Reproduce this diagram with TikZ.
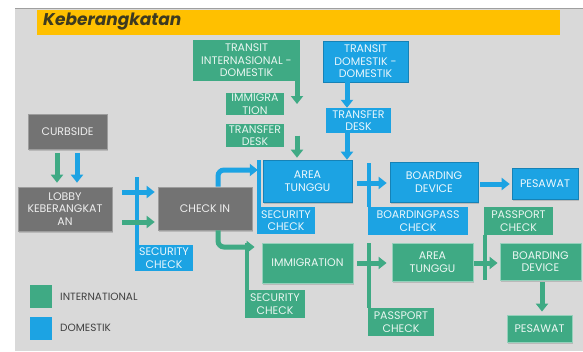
\documentclass[tikz,border=0pt]{standalone}
\usepackage{fontspec}
\setmainfont{Poppins}
\usetikzlibrary{arrows.meta,shadows}
\definecolor{ig}{HTML}{3FAA84}
\definecolor{db}{HTML}{1CA3E3}
\definecolor{gb}{HTML}{737373}
\definecolor{bgc}{HTML}{D9D9D9}
\definecolor{yb}{HTML}{FFC000}
\definecolor{tt}{HTML}{3D3A20}
\definecolor{lg}{HTML}{404040}
\tikzset{
 base/.style={inner sep=0pt, align=center, font=\fontsize{11}{12.5}\selectfont},
 mainbox/.style={base, drop shadow={shadow xshift=1.2pt,shadow yshift=-1.5pt,opacity=0.35}},
 gmain/.style={mainbox, fill=ig, draw=ig!55!white, line width=0.8pt, text=white!90!ig},
 bmain/.style={mainbox, fill=db, draw=db!80!black, line width=0.6pt, text=white!92!db},
 graybox/.style={mainbox, fill=gb, draw=gb!70!white, line width=0.6pt, text=white!88!gb},
 glabel/.style={base, fill=ig, text=white!88!ig},
 blabel/.style={base, fill=db, text=white!90!db},
 arr/.style={line width=5pt, -{Triangle[width=12pt,length=8pt]}},
 garrow/.style={arr, draw=ig},
 barrow/.style={arr, draw=db},
 gtick/.style={line width=3.5pt, draw=ig},
 btick/.style={line width=3.5pt, draw=db},
 legsq/.style={inner sep=0pt, minimum width=22pt, minimum height=23pt},
 legtxt/.style={inner sep=0pt, anchor=west, text=lg, font=\fontsize{10.5}{12.5}\selectfont},
}
\begin{document}
\begin{tikzpicture}[x=1pt,y=-1pt]
% page and panel
\fill[white] (0,0) rectangle (583,351);
\useasboundingbox (0,0) rectangle (583,351);
\fill[bgc] (15,8) rectangle (583,351);
\draw[gray!75, line width=1pt] (15,8) -- (583,8);
\fill[yb] (37,10) rectangle (560,35);
\node[inner sep=0pt, anchor=west, text=tt, font=\fontsize{17}{20}\selectfont\bfseries\itshape] (title) at (43,22) {Keberangkatan};

% top transit boxes
\node[glabel, minimum width=107pt, minimum height=41pt] (tid) at (246.5,60.5) {TRANSIT\\INTERNASIONAL -\\DOMESTIK};
\node[blabel, minimum width=85pt, minimum height=41pt, draw=db!80!black, line width=0.6pt] (tdd) at (365.5,61.5) {TRANSIT\\DOMESTIK -\\DOMESTIK};
\node[glabel, minimum width=58pt, minimum height=22pt] (imm1) at (255,104) {IMMIGRA\\TION};
\node[glabel, minimum width=58pt, minimum height=23pt] (tfd1) at (255,135.5) {TRANSFER\\DESK};
\node[blabel, minimum width=65pt, minimum height=25pt] (tfd2) at (358.5,120.5) {TRANSFER\\DESK};

% main flow
\node[graybox, minimum width=79pt, minimum height=35pt] (curb) at (67.5,131.5) {CURBSIDE};
\node[graybox, minimum width=94pt, minimum height=44pt] (lobby) at (65,209) {LOBBY\\KEBERANGKAT\\AN};
\node[graybox, minimum width=94pt, minimum height=43pt] (checkin) at (205,208.5) {CHECK IN};
\node[blabel, minimum width=58pt, minimum height=26pt] (scb1) at (164,258) {SECURITY\\CHECK};

% domestic row
\node[bmain, minimum width=89pt, minimum height=42pt] (atb) at (307.5,181) {AREA\\TUNGGU};
\node[blabel, minimum width=58pt, minimum height=27pt] (scb2) at (286,220.5) {SECURITY\\CHECK};
\node[bmain, minimum width=88pt, minimum height=40pt] (bdb) at (434,182) {BOARDING\\DEVICE};
\node[blabel, minimum width=100pt, minimum height=28pt] (bpc) at (418,221) {BOARDINGPASS\\CHECK};
\node[bmain, minimum width=66pt, minimum height=31pt] (pesb) at (545,183.5) {PESAWAT};

% international row
\node[gmain, minimum width=91pt, minimum height=40pt] (immg) at (307.5,263) {IMMIGRATION};
\node[glabel, minimum width=60pt, minimum height=28pt] (scg) at (275,304) {SECURITY\\CHECK};
\node[gmain, minimum width=81pt, minimum height=38pt] (atg) at (432.5,262) {AREA\\TUNGGU};
\node[glabel, minimum width=66pt, minimum height=28pt] (ppc1) at (401,322) {PASSPORT\\CHECK};
\node[glabel, minimum width=69pt, minimum height=28pt] (ppc2) at (518.5,221) {PASSPORT\\CHECK};
\node[gmain, minimum width=81pt, minimum height=37pt] (bdg) at (540.5,261.5) {BOARDING\\DEVICE};
\node[gmain, minimum width=65pt, minimum height=27pt] (pesg) at (539.5,328.5) {PESAWAT};

% legend
\node[legsq, fill=ig] (lgg) at (41,296.5) {};
\node[legsq, fill=db] (lgb) at (41,328) {};
\node[legtxt] (lgt1) at (60,297) {INTERNATIONAL};
\node[legtxt] (lgt2) at (60,328) {DOMESTIK};

% top arrows
\draw[garrow] (297,0 |- tid.south) -- (297,0 |- imm1.center);
\draw[garrow] (297,0 |- tfd1.center) -- ([yshift=2pt]297,0 |- atb.north);
\draw[barrow] (347,0 |- tdd.south) -- (347,0 |- tfd2.north);
\draw[barrow] (347,0 |- tfd2.south) -- (347,0 |- atb.north);

% curbside -> lobby
\draw[garrow, shorten <=4pt, shorten >=4pt] ([xshift=-10.5pt]curb.south) -- ([xshift=-10.5pt]curb.south |- lobby.north);
\draw[barrow, shorten <=4pt, shorten >=4pt] ([xshift=9.5pt]curb.south) -- ([xshift=9.5pt]curb.south |- lobby.north);

% lobby -> check in
\draw[btick] ([xshift=2pt]scb1.north west) -- ++(0,-68);
\draw[barrow, shorten <=10pt, shorten >=3pt] (lobby.east |- 0,192) -- (checkin.west |- 0,192);
\draw[garrow, shorten <=10pt, shorten >=3pt] (lobby.east |- 0,222) -- (checkin.west |- 0,222);

% check in -> area tunggu (domestik)
\draw[btick] ([xshift=2pt]scb2.north west) -- ++(0,-47);
\draw[barrow, rounded corners=6pt] (218,0 |- checkin.north) |- ([xshift=1pt]scb2.north west |- 0,170);

% check in -> immigration (international)
\draw[gtick] ([xshift=2pt]scg.north west) -- ++(0,-47);
\draw[garrow, rounded corners=6pt] (218,0 |- checkin.south) |- ([xshift=-7pt]immg.west |- 0,247);

% domestic row arrows
\draw[btick] ([xshift=1pt]bpc.north west) -- ++(0,-44);
\draw[barrow, shorten <=5pt, shorten >=3pt] (atb.east |- 0,183) -- (bdb.west |- 0,183);
\draw[barrow, shorten <=2pt, shorten >=2pt] (bdb.east |- 0,184) -- (pesb.west |- 0,184);

% international row arrows
\draw[gtick] ([xshift=1pt]ppc1.north west) -- ++(0,-65);
\draw[garrow, shorten <=4pt, shorten >=5pt] (immg.east |- 0,263) -- (atg.west |- 0,263);
\draw[gtick] ([xshift=1pt]ppc2.south west) -- ++(0,45);
\draw[garrow, shorten <=1pt, shorten >=2pt] (atg.east |- 0,263) -- (bdg.west |- 0,263);
\draw[garrow, shorten <=2pt, shorten >=3pt] (542,0 |- bdg.south) -- (542,0 |- pesg.north);
\end{tikzpicture}
\end{document}
